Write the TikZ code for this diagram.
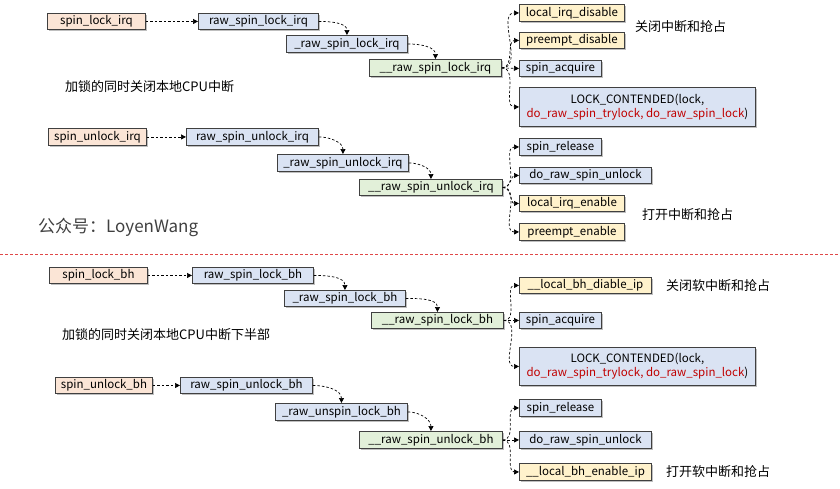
\documentclass[tikz,border=0pt]{standalone}
\usepackage{fontspec}
\setmainfont{Noto Sans CJK SC}
\usetikzlibrary{arrows.meta,shadows}
\definecolor{cO}{HTML}{FBE5D6}
\definecolor{cB}{HTML}{DAE3F3}
\definecolor{cG}{HTML}{E2F0D9}
\definecolor{cY}{HTML}{FFF2CC}
\definecolor{bline}{HTML}{404040}
\definecolor{redt}{HTML}{C00000}
\definecolor{redl}{HTML}{E04848}
\definecolor{grayt}{HTML}{404040}
\begin{document}
\begin{tikzpicture}[x=1pt,y=-1pt,
  box/.style={draw=bline, line width=0.9pt, inner sep=0pt, anchor=north west,
    font=\fontsize{11.5}{13}\selectfont,
    drop shadow={shadow xshift=1.2pt,shadow yshift=-1.2pt,fill=black,opacity=0.25}},
  arr/.style={line width=0.7pt, dash pattern=on 2.5pt off 2pt,
    -{Triangle[length=5pt,width=5pt]}},
  note/.style={anchor=west, inner sep=0pt, font=\fontsize{13}{15}\selectfont},
  wm/.style={anchor=west, inner sep=0pt, text=grayt, font=\fontsize{17}{19}\selectfont}]
\useasboundingbox (0,0) rectangle (840,488);

% ---------- section 1 ----------
\node[box, fill=cO, minimum width=98pt, minimum height=16pt] (a1) at (47,13) {spin\_lock\_irq};
\node[box, fill=cB, minimum width=120pt, minimum height=16pt] (a2) at (198,13) {raw\_spin\_lock\_irq};
\node[box, fill=cB, minimum width=121pt, minimum height=17pt] (a3) at (286,35) {\_raw\_spin\_lock\_irq};
\node[box, fill=cG, minimum width=132pt, minimum height=17pt] (a4) at (369,59) {\_\_raw\_spin\_lock\_irq};
\node[box, fill=cY, minimum width=105pt, minimum height=17pt] (a5) at (519,4) {local\_irq\_disable};
\node[box, fill=cY, minimum width=105pt, minimum height=16pt] (a6) at (519,32) {preempt\_disable};
\node[box, fill=cB, minimum width=82pt, minimum height=16pt] (a7) at (519,60) {spin\_acquire};
\node[box, fill=cB, minimum width=236pt, minimum height=39pt, align=center] (a8) at (519,87)
  {LOCK\_CONTENDED(lock,\\[1pt]\textcolor{redt}{do\_raw\_spin\_trylock, do\_raw\_spin\_lock})};
\node[note] (n1) at (635,27) {关闭中断和抢占};
\node[note] (n2) at (65,87) {加锁的同时关闭本地CPU中断};
\draw[arr] (a1.east) -- (a2.west);
\draw[arr] (a2.east) to[out=0,in=90] (a3.north);
\draw[arr] (a3.east) to[out=0,in=90] (a4.north);
\foreach \t in {a5,a6,a8} \draw[arr] (a4.east) to[out=0,in=180] (\t.west);
\draw[arr] (a4.east) -- (a7.west);

% ---------- section 2 ----------
\node[box, fill=cO, minimum width=98pt, minimum height=17pt] (b1) at (48,128) {spin\_unlock\_irq};
\node[box, fill=cB, minimum width=132pt, minimum height=17pt] (b2) at (186,128) {raw\_spin\_unlock\_irq};
\node[box, fill=cB, minimum width=131pt, minimum height=17pt] (b3) at (277,154) {\_raw\_spin\_unlock\_irq};
\node[box, fill=cG, minimum width=143pt, minimum height=16pt] (b4) at (359,179) {\_\_raw\_spin\_unlock\_irq};
\node[box, fill=cB, minimum width=82pt, minimum height=17pt] (b5) at (519,138) {spin\_release};
\node[box, fill=cB, minimum width=132pt, minimum height=16pt] (b6) at (519,167) {do\_raw\_spin\_unlock};
\node[box, fill=cY, minimum width=105pt, minimum height=16pt] (b7) at (519,195) {local\_irq\_enable};
\node[box, fill=cY, minimum width=105pt, minimum height=17pt] (b8) at (519,223) {preempt\_enable};
\node[note] (n3) at (642,215) {打开中断和抢占};
\node[wm] (w1) at (38,227) {公众号：LoyenWang};
\draw[arr] (b1.east) -- (b2.west);
\draw[arr] (b2.east) to[out=0,in=90] (b3.north);
\draw[arr] (b3.east) to[out=0,in=90] (b4.north);
\foreach \t in {b5,b6,b7,b8} \draw[arr] (b4.east) to[out=0,in=180] (\t.west);

% ---------- separator ----------
\coordinate (s1) at (0,254);
\coordinate (s2) at (840,254);
\draw[redl, line width=0.8pt, dash pattern=on 3pt off 2pt] (s1) -- (s2);

% ---------- section 3 ----------
\node[box, fill=cO, minimum width=98pt, minimum height=16pt] (c1) at (49,267) {spin\_lock\_bh};
\node[box, fill=cB, minimum width=121pt, minimum height=16pt] (c2) at (192,267) {raw\_spin\_lock\_bh};
\node[box, fill=cB, minimum width=121pt, minimum height=16pt] (c3) at (284,290) {\_raw\_spin\_lock\_bh};
\node[box, fill=cG, minimum width=132pt, minimum height=16pt] (c4) at (371,312) {\_\_raw\_spin\_lock\_bh};
\node[box, fill=cY, minimum width=132pt, minimum height=16pt] (c5) at (519,277) {\_\_local\_bh\_diable\_ip};
\node[box, fill=cB, minimum width=82pt, minimum height=16pt] (c6) at (519,312) {spin\_acquire};
\node[box, fill=cB, minimum width=236pt, minimum height=38pt, align=center] (c7) at (519,347)
  {LOCK\_CONTENDED(lock,\\[1pt]\textcolor{redt}{do\_raw\_spin\_trylock, do\_raw\_spin\_lock})};
\node[note] (n4) at (666,286) {关闭软中断和抢占};
\node[note] (n5) at (62,335) {加锁的同时关闭本地CPU中断下半部};
\draw[arr] (c1.east) -- (c2.west);
\draw[arr] (c2.east) to[out=0,in=90] (c3.north);
\draw[arr] (c3.east) to[out=0,in=90] (c4.north);
\foreach \t in {c5,c7} \draw[arr] (c4.east) to[out=0,in=180] (\t.west);
\draw[arr] (c4.east) -- (c6.west);

% ---------- section 4 ----------
\node[box, fill=cO, minimum width=97pt, minimum height=16pt] (d1) at (55,377) {spin\_unlock\_bh};
\node[box, fill=cB, minimum width=132pt, minimum height=16pt] (d2) at (180,377) {raw\_spin\_unlock\_bh};
\node[box, fill=cB, minimum width=132pt, minimum height=17pt] (d3) at (275,403) {\_raw\_unspin\_lock\_bh};
\node[box, fill=cG, minimum width=143pt, minimum height=17pt] (d4) at (359,431) {\_\_raw\_spin\_unlock\_bh};
\node[box, fill=cB, minimum width=82pt, minimum height=17pt] (d5) at (519,399) {spin\_release};
\node[box, fill=cB, minimum width=132pt, minimum height=17pt] (d6) at (519,431) {do\_raw\_spin\_unlock};
\node[box, fill=cY, minimum width=132pt, minimum height=17pt] (d7) at (519,463) {\_\_local\_bh\_enable\_ip};
\node[note] (n6) at (666,472) {打开软中断和抢占};
\draw[arr] (d1.east) -- (d2.west);
\draw[arr] (d2.east) to[out=0,in=90] (d3.north);
\draw[arr] (d3.east) to[out=0,in=90] (d4.north);
\foreach \t in {d5,d7} \draw[arr] (d4.east) to[out=0,in=180] (\t.west);
\draw[arr] (d4.east) -- (d6.west);
\end{tikzpicture}
\end{document}
